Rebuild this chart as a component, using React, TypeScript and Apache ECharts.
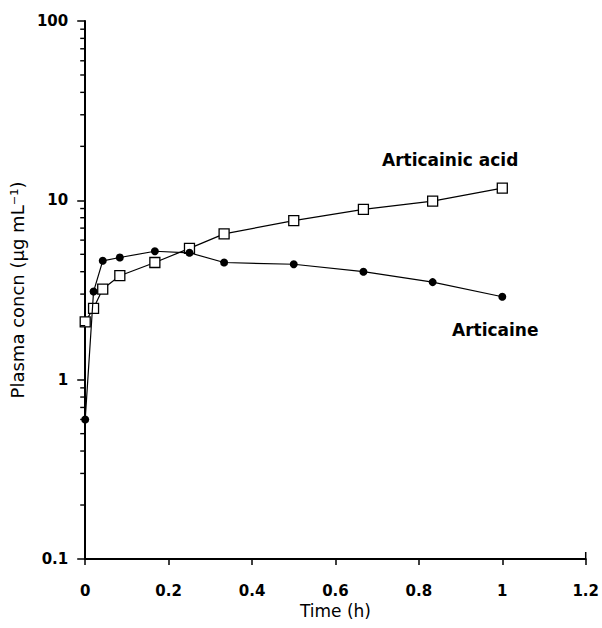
import React, { useEffect, useRef } from "react";
import * as echarts from "echarts";

const timeH = [0, 0.02, 0.042, 0.083, 0.167, 0.25, 0.333, 0.5, 0.667, 0.833, 1.0];
const articaine = [0.6, 3.1, 4.6, 4.8, 5.2, 5.1, 4.5, 4.4, 4.0, 3.5, 2.9];
const articainicAcid = [2.1, 2.5, 3.2, 3.8, 4.5, 5.4, 6.5, 7.7, 8.9, 9.9, 11.7];
const minorTickValues = [
  0.2, 0.3, 0.4, 0.5, 0.6, 0.7, 0.8, 0.9,
  2, 3, 4, 5, 6, 7, 8, 9,
  20, 30, 40, 50, 60, 70, 80, 90,
];
const xEndTick = [1.2];
const yMin = 0.1;

const FONT = "'DejaVu Sans', 'Liberation Sans', Arial, sans-serif";

export default function App() {
  const ref = useRef<HTMLDivElement>(null);
  useEffect(() => {
    if (!ref.current) return;
    const chart = echarts.init(ref.current, undefined, { renderer: "svg" });
    const pair = (ys: number[]) => timeH.map((t, i) => [t, ys[i]]);
    const labelStyle = { fontFamily: FONT, fontWeight: "bold", fontSize: 17, color: "#000" };
    chart.setOption({
      animation: false,
      backgroundColor: "#ffffff",
      title: [
        { text: "Articainic acid", left: 382, top: 151, padding: 0, textStyle: labelStyle },
        { text: "Articaine", left: 452, top: 321, padding: 0, textStyle: labelStyle },
      ],
      grid: { left: 85, right: 14, top: 21, bottom: 69, containLabel: false },
      xAxis: {
        type: "value",
        min: 0,
        max: 1.2,
        interval: 0.2,
        name: "Time (h)",
        nameLocation: "middle",
        nameGap: 38,
        nameTextStyle: { fontFamily: FONT, fontSize: 17, color: "#000" },
        axisLine: { show: true, onZero: false, lineStyle: { color: "#000", width: 2 } },
        axisTick: { show: true, inside: false, length: 6, lineStyle: { color: "#000", width: 1.5 } },
        axisLabel: { margin: 24, fontFamily: FONT, fontWeight: "bold", fontSize: 15, color: "#000" },
        splitLine: { show: false },
      },
      yAxis: {
        type: "log",
        logBase: 10,
        min: yMin,
        max: 100,
        name: "Plasma concn (μg mL⁻¹)",
        nameLocation: "middle",
        nameGap: 56,
        nameTextStyle: { fontFamily: FONT, fontSize: 18, color: "#000" },
        axisLine: { show: true, lineStyle: { color: "#000", width: 2 } },
        axisTick: { show: true, inside: false, length: 8, lineStyle: { color: "#000", width: 1.5 } },
        axisLabel: { margin: 17, fontFamily: FONT, fontWeight: "bold", fontSize: 15, color: "#000" },
        splitLine: { show: false },
        minorTick: { show: false },
      },
      series: [
        {
          type: "line",
          name: "Articainic acid",
          data: pair(articainicAcid),
          symbol: "rect",
          symbolSize: 10,
          lineStyle: { color: "#000", width: 1.2 },
          itemStyle: { color: "#fff", borderColor: "#000", borderWidth: 1.3 },
          z: 3,
        },
        {
          type: "line",
          name: "Articaine",
          data: pair(articaine),
          symbol: "circle",
          symbolSize: 8,
          lineStyle: { color: "#000", width: 1.2 },
          itemStyle: { color: "#000", borderColor: "#000", borderWidth: 0 },
          z: 4,
        },
      ],
    });

    // Minor ticks of the log axis and the upward end tick, placed through the chart's own scales.
    const tickEls: any[] = [];
    minorTickValues.forEach((v) => {
      const p = chart.convertToPixel({ gridIndex: 0 }, [0, v]) as number[];
      if (p && isFinite(p[0]) && isFinite(p[1])) {
        tickEls.push({
          type: "line",
          silent: true,
          z: 100,
          shape: { x1: p[0] - 5, y1: p[1], x2: p[0], y2: p[1] },
          style: { stroke: "#000", lineWidth: 1.4 },
        });
      }
    });
    xEndTick.forEach((x) => {
      const p = chart.convertToPixel({ gridIndex: 0 }, [x, yMin]) as number[];
      if (p && isFinite(p[0]) && isFinite(p[1])) {
        tickEls.push({
          type: "line",
          silent: true,
          z: 100,
          shape: { x1: p[0], y1: p[1] - 7, x2: p[0], y2: p[1] },
          style: { stroke: "#000", lineWidth: 1.5 },
        });
      }
    });
    chart.setOption({ graphic: { elements: tickEls } });

    return () => chart.dispose();
  }, []);
  return (
    <div
      ref={ref}
      style={{ position: "fixed", left: 0, top: 0, width: 602, height: 628, background: "#fff" }}
    />
  );
}
